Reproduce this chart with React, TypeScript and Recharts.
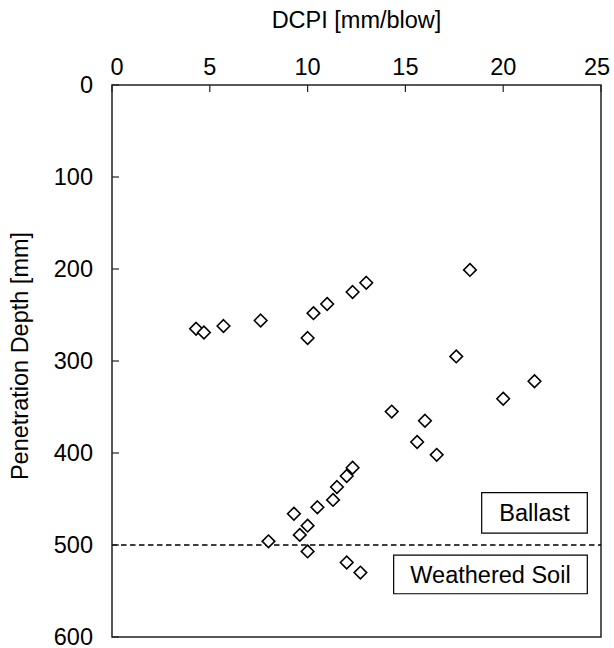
import React from 'react';
import { ScatterChart, Scatter, XAxis, YAxis, ReferenceLine, ReferenceArea } from 'recharts';

const dcpi = [18.3, 13.0, 12.3, 11.0, 10.3, 7.6, 5.7, 4.3, 4.7, 10.0, 17.6, 21.6, 20.0, 14.3, 16.0, 15.6, 16.6, 12.3, 12.0, 11.5, 11.3, 10.5, 9.3, 10.0, 9.6, 8.0, 10.0, 12.0, 12.7];
const depth = [201, 215, 225, 238, 248, 256, 262, 265, 269, 275, 295, 322, 341, 355, 365, 388, 402, 416, 425, 437, 451, 459, 466, 479, 489, 496, 507, 519, 530];
const xTicks = [0, 5, 10, 15, 20, 25];
const yTicks = [0, 100, 200, 300, 400, 500, 600];
const layerBoundary = 500;
const ballastBox = { x1: 18.9, x2: 24.3, y1: 443, y2: 487, text: 'Ballast' };
const soilBox = { x1: 14.4, x2: 24.3, y1: 511, y2: 553, text: 'Weathered Soil' };

const data = dcpi.map((x, i) => ({ x, y: depth[i] }));
const FONT = '"Liberation Sans", Arial, sans-serif';
const FS = 23.5;
const FRAME = '#222';

const TopTick = (props: any) => {
  const { x, y, payload, index } = props;
  const axisY = y + 10;
  const shift = index === 0 ? 5 : index === xTicks.length - 1 ? -4 : 0;
  return (
    <g>
      <line x1={x} x2={x} y1={axisY} y2={axisY + 7} stroke={FRAME} strokeWidth={1.2} />
      <text x={x + shift} y={y} textAnchor="middle" fontSize={FS} fontFamily={FONT} fill="#000">{payload.value}</text>
    </g>
  );
};

const LeftTick = (props: any) => {
  const { x, y, payload } = props;
  const axisX = x + 19;
  return (
    <g>
      <line x1={axisX} x2={axisX + 7} y1={y} y2={y} stroke={FRAME} strokeWidth={1.2} />
      <text x={x} y={y} dy="0.36em" textAnchor="end" fontSize={FS} fontFamily={FONT} fill="#000">{payload.value}</text>
    </g>
  );
};

const Diamond = (props: any) => {
  const { cx, cy } = props;
  const r = 6.3;
  return (
    <polygon
      points={`${cx},${cy - r} ${cx + r},${cy} ${cx},${cy + r} ${cx - r},${cy}`}
      fill="#fff"
      stroke="#000"
      strokeWidth={1.6}
    />
  );
};

export default function App() {
  return (
    <div style={{ position: 'absolute', left: 0, top: 0, width: 614, height: 648, fontFamily: FONT, background: '#fff' }}>
      <ScatterChart width={614} height={648} margin={{ top: 0, right: 13, bottom: 11, left: 0 }}>
        <XAxis
          type="number"
          dataKey="x"
          orientation="top"
          domain={[0, 25]}
          ticks={xTicks}
          height={85}
          axisLine={false}
          tickLine={false}
          tickSize={0}
          tickMargin={10}
          tick={<TopTick />}
          interval={0}
          label={{
            content: (p: any) => {
              const vb = p.viewBox;
              return (
                <text x={vb.x + vb.width / 2} y={28} textAnchor="middle" fontSize={FS} fontFamily={FONT} fill="#000">
                  DCPI [mm/blow]
                </text>
              );
            },
          }}
        />
        <YAxis
          type="number"
          dataKey="y"
          domain={[0, 600]}
          reversed
          ticks={yTicks}
          width={112}
          axisLine={false}
          tickLine={false}
          tickSize={0}
          tickMargin={19}
          tick={<LeftTick />}
          interval={0}
          label={{
            content: (p: any) => {
              const vb = p.viewBox;
              const cy = vb.y + vb.height / 2 - 5;
              return (
                <text x={28} y={cy} transform={`rotate(-90, 28, ${cy})`} textAnchor="middle" fontSize={FS} fontFamily={FONT} fill="#000">
                  Penetration Depth [mm]
                </text>
              );
            },
          }}
        />
        <ReferenceArea x1={0} x2={25} y1={0} y2={600} fill="none" fillOpacity={0} stroke={FRAME} strokeWidth={1.5} />
        <ReferenceLine y={layerBoundary} stroke="#000" strokeWidth={1.3} strokeDasharray="5.5 3.5" />
        <ReferenceArea
          x1={ballastBox.x1}
          x2={ballastBox.x2}
          y1={ballastBox.y1}
          y2={ballastBox.y2}
          fill="#fff"
          fillOpacity={1}
          stroke="#000"
          strokeWidth={1.2}
          label={{ value: ballastBox.text, position: 'center', fontSize: FS, fontFamily: FONT, fill: '#000' }}
        />
        <ReferenceArea
          x1={soilBox.x1}
          x2={soilBox.x2}
          y1={soilBox.y1}
          y2={soilBox.y2}
          fill="#fff"
          fillOpacity={1}
          stroke="#000"
          strokeWidth={1.2}
          label={{ value: soilBox.text, position: 'center', fontSize: FS, fontFamily: FONT, fill: '#000' }}
        />
        <Scatter data={data} shape={<Diamond />} isAnimationActive={false} />
      </ScatterChart>
    </div>
  );
}
